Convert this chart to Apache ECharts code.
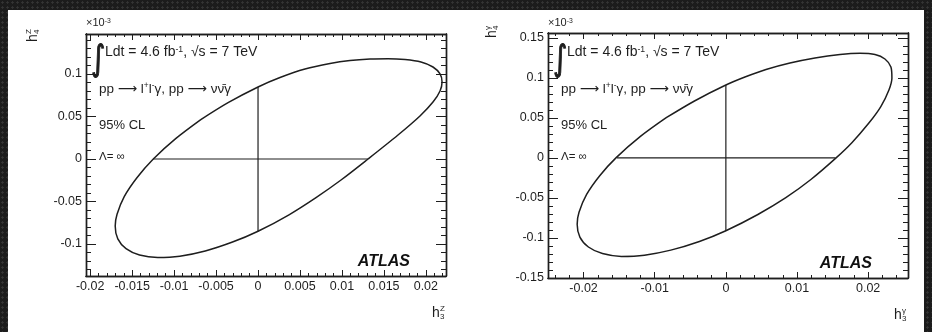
<!DOCTYPE html>
<html>
<head>
<meta charset="utf-8">
<script src="https://cdn.jsdelivr.net/npm/echarts@6/dist/echarts.min.js"></script>
<style>
  html, body { margin: 0; padding: 0; width: 932px; height: 332px; overflow: hidden; }
  body {
    background-color: #1c1c1c;
    background-image: radial-gradient(circle, #353535 0.9px, transparent 1.4px);
    background-size: 5px 5px;
  }
  #sheet { position: absolute; left: 8px; top: 10px; width: 916px; height: 322px; background: #fff; }
  #chart { position: absolute; left: 0; top: 0; width: 932px; height: 332px; }
</style>
</head>
<body>
<div id="sheet"></div>
<div id="chart"></div>
<script>
// 95% CL contour in the (h3^Z, h4^Z) plane; h4 in units of 1e-3
const h3Z = [-0.00682, -0.00357, 0, 0.00262, 0.00560, 0.00858, 0.01096, 0.01335, 0.01549, 0.01752, 0.01942,
             0.02085, 0.02169, 0.02193, 0.02169, 0.02085, 0.01930, 0.01668, 0.01311, 0.00989, 0.00691, 0.00369,
             0, -0.00304, -0.00629, -0.00932, -0.01196, -0.01412, -0.01573, -0.01671, -0.01702, -0.01680,
             -0.01593, -0.01443, -0.01248, -0.00978, -0.00682];
const h4Z = [0.0463, 0.0662, 0.0847, 0.0958, 0.1058, 0.1123, 0.1158, 0.1176, 0.1180, 0.1170, 0.1141,
             0.1082, 0.1000, 0.0906, 0.0800, 0.0670, 0.0506, 0.0282, 0, -0.0247, -0.0454, -0.0656,
             -0.0850, -0.0977, -0.1082, -0.1143, -0.1158, -0.1129, -0.1054, -0.0940, -0.0788, -0.0650,
             -0.0440, -0.0220, 0, 0.0242, 0.0463];

// 95% CL contour in the (h3^gamma, h4^gamma) plane; h4 in units of 1e-3
const h3G = [-0.00838, -0.00441, 0, 0.00268, 0.00564, 0.00901, 0.01252, 0.01604, 0.01885, 0.02096, 0.02236,
             0.02320, 0.02334, 0.02292, 0.02178, 0.02010, 0.01771, 0.01549, 0.01195, 0.00843, 0.00450, 0,
             -0.00372, -0.00774, -0.01144, -0.01469, -0.01735, -0.01932, -0.02052, -0.02090, -0.02064,
             -0.01957, -0.01773, -0.01545, -0.01201, -0.00838];
const h4G = [0.0502, 0.0711, 0.0910, 0.1010, 0.1104, 0.1185, 0.1248, 0.1291, 0.1306, 0.1291, 0.1235,
             0.1135, 0.0998, 0.0848, 0.0641, 0.0435, 0.0190, 0, -0.0270, -0.0497, -0.0707, -0.0910,
             -0.1044, -0.1152, -0.1215, -0.1230, -0.1195, -0.1113, -0.0989, -0.0828, -0.0679,
             -0.0457, -0.0223, 0, 0.0268, 0.0502];

// one-parameter limits, drawn as a cross inside each contour
const h3ZLimits = [-0.0125, 0.0131];
const h4ZLimits = [-0.0850, 0.0847];
const h3GLimits = [-0.0153, 0.0154];
const h4GLimits = [-0.0910, 0.0910];

// tick labels
const xTicksZ = [-0.02, -0.015, -0.01, -0.005, 0, 0.005, 0.01, 0.015, 0.02];
const yTicksZ = [-0.1, -0.05, 0, 0.05, 0.1];
const xTicksG = [-0.02, -0.01, 0, 0.01, 0.02];
const yTicksG = [-0.15, -0.1, -0.05, 0, 0.05, 0.1, 0.15];

const INK = '#1e1e1e';
const FONT = '"Liberation Sans", Arial, Helvetica, sans-serif';

const panels = [
  { grid: { left: 86, top: 34, width: 360, height: 242 },
    x: [-0.0205, 0.0224], y: [-0.1376, 0.147], xMinor: 0.001, yMinor: 0.01,
    xTicks: xTicksZ, yTicks: yTicksZ, h3: h3Z, h4: h4Z, h3Lim: h3ZLimits, h4Lim: h4ZLimits,
    boson: 'Z', titleDx: -53, titleDy: 8 },
  { grid: { left: 548, top: 33, width: 360, height: 245 },
    x: [-0.025, 0.0256], y: [-0.15, 0.156], xMinor: 0.002, yMinor: 0.01,
    xTicks: xTicksG, yTicks: yTicksG, h3: h3G, h4: h4G, h3Lim: h3GLimits, h4Lim: h4GLimits,
    boson: 'γ', titleDx: -56, titleDy: 5 }
];

function steps(min, max, step) {
  const out = [];
  for (let k = Math.ceil(min / step - 1e-9); k * step <= max + 1e-12; k++) out.push(+(k * step).toFixed(6));
  return out;
}

function axis(gridIndex, position, range, ticks, len, labels) {
  return {
    type: 'value', gridIndex, position, min: range[0], max: range[1],
    axisLine: { show: true, onZero: false, lineStyle: { color: INK, width: 1.4 } },
    axisTick: { show: true, inside: true, length: len, customValues: ticks, lineStyle: { color: INK, width: 1 } },
    axisLabel: labels ? {
      show: true, customValues: labels, formatter: v => String(v),
      fontFamily: FONT, fontSize: 12.5, color: INK, margin: 4
    } : { show: false },
    minorTick: { show: false }, splitLine: { show: false }
  };
}

const grids = [], xAxes = [], yAxes = [], series = [];
panels.forEach((p, i) => {
  grids.push(p.grid);
  const xMin = steps(p.x[0], p.x[1], p.xMinor);
  const yMin = steps(p.y[0], p.y[1], p.yMinor);
  xAxes.push(axis(i, 'bottom', p.x, p.xTicks, 6, p.xTicks));
  xAxes.push(axis(i, 'bottom', p.x, xMin, 3, null));
  xAxes.push(axis(i, 'top', p.x, p.xTicks, 6, null));
  xAxes.push(axis(i, 'top', p.x, xMin, 3, null));
  yAxes.push(axis(i, 'left', p.y, p.yTicks, 10, p.yTicks));
  yAxes.push(axis(i, 'left', p.y, yMin, 5, null));
  yAxes.push(axis(i, 'right', p.y, p.yTicks, 10, null));
  yAxes.push(axis(i, 'right', p.y, yMin, 5, null));
  const ax = { xAxisIndex: i * 4, yAxisIndex: i * 4 };
  series.push(Object.assign({
    type: 'line', data: p.h3.map((v, k) => [v, p.h4[k]]), smooth: 0.3, symbol: 'none',
    lineStyle: { color: INK, width: 1.5 }, silent: true
  }, ax));
  series.push(Object.assign({
    type: 'line', data: [[p.h3Lim[0], 0], [p.h3Lim[1], 0]], symbol: 'none',
    lineStyle: { color: INK, width: 1.2 }, silent: true
  }, ax));
  series.push(Object.assign({
    type: 'line', data: [[0, p.h4Lim[0]], [0, p.h4Lim[1]]], symbol: 'none',
    lineStyle: { color: INK, width: 1.2 }, silent: true
  }, ax));
});

const base = { fontFamily: FONT, fill: INK };
function rich(x, y, text, size) {
  return {
    type: 'text', x, y, silent: true,
    style: {
      text, textAlign: 'left', textVerticalAlign: 'middle',
      fontFamily: FONT, fontSize: size, fill: INK,
      rich: {
        t: Object.assign({ fontSize: size }, base),
        a: { fontSize: size, fontFamily: '"DejaVu Sans", sans-serif', fill: INK },
        sup: Object.assign({ fontSize: size * 0.62, verticalAlign: 'top' }, base)
      }
    }
  };
}
function hSymbol(x, y, sup, sub, rotation) {
  return {
    type: 'group', x, y, rotation: rotation || 0, silent: true,
    children: [
      { type: 'text', x: 0, y: 0, style: { text: 'h', fontFamily: FONT, fontSize: 14, fill: INK, textVerticalAlign: 'middle' } },
      { type: 'text', x: 8, y: -4, style: { text: sup, fontFamily: FONT, fontSize: 8, fill: INK, textVerticalAlign: 'middle' } },
      { type: 'text', x: 8, y: 4, style: { text: sub, fontFamily: FONT, fontSize: 8, fill: INK, textVerticalAlign: 'middle' } }
    ]
  };
}

const graphic = [];
panels.forEach((p) => {
  const L = p.grid.left, T = p.grid.top, R = p.grid.left + p.grid.width, B = p.grid.top + p.grid.height;
  graphic.push(rich(L, 23, '{t|×10}{sup|-3}', 11));
  graphic.push({
    type: 'text', x: L + 12, y: 61, silent: true, scaleY: 1.3,
    style: { text: '∫', fontFamily: '"DejaVu Sans", sans-serif', fontSize: 27, fill: INK,
             stroke: INK, lineWidth: 0.8, textAlign: 'center', textVerticalAlign: 'middle' }
  });
  graphic.push(rich(L + 19, 52, '{t|Ldt = 4.6 fb}{sup|-1}{t|, √s = 7 TeV}', 14));
  graphic.push(rich(L + 13, 89, '{t|pp }{a|⟶}{t| l}{sup|+}{t|l}{sup|-}{t|γ, pp }{a|⟶}{t| νν̄γ}', 13.5));
  graphic.push(rich(L + 13, 125, '{t|95% CL}', 13));
  graphic.push(rich(L + 13, 157, '{t|Λ= ∞}', 11.5));
  graphic.push({
    type: 'text', x: R - 36, y: B - 14, silent: true,
    style: { text: 'ATLAS', fontFamily: FONT, fontSize: 16, fontWeight: 'bold', fontStyle: 'italic',
             fill: '#111', textAlign: 'right', textVerticalAlign: 'middle' }
  });
  graphic.push(hSymbol(R - 14, B + 37, p.boson, '3', 0));
  graphic.push(hSymbol(L + p.titleDx, T + p.titleDy, p.boson, '4', Math.PI / 2));
});

const chart = echarts.init(document.getElementById('chart'), null, { renderer: 'canvas' });
chart.setOption({
  animation: false,
  backgroundColor: 'transparent',
  grid: grids,
  xAxis: xAxes,
  yAxis: yAxes,
  series,
  graphic
});
</script>
</body>
</html>
